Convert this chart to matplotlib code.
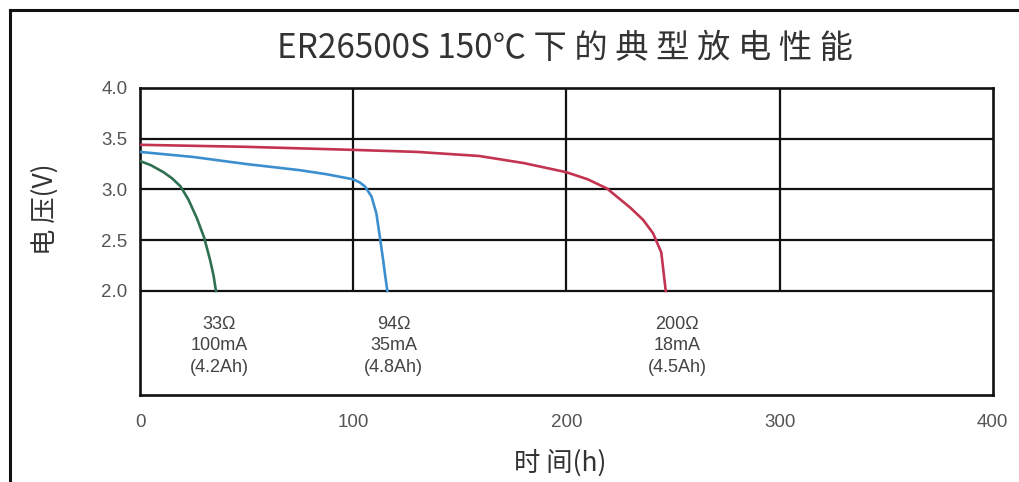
import matplotlib.pyplot as plt
from matplotlib.lines import Line2D

# 数据
t_33 = [0, 5, 11, 15, 19, 22.7, 26.6, 30, 32.8, 34.5, 35.6]
v_33 = [3.28, 3.24, 3.17, 3.11, 3.03, 2.9, 2.72, 2.53, 2.31, 2.15, 2.0]

t_94 = [0, 25, 50, 75, 87.5, 100, 103, 105.5, 108.6, 110.9, 112.5, 114, 115, 116]
v_94 = [3.37, 3.32, 3.25, 3.19, 3.15, 3.10, 3.07, 3.03, 2.93, 2.76, 2.53, 2.31, 2.15, 2.0]

t_200 = [0, 50, 100, 130, 159, 180, 200, 210, 219, 230, 236, 240.6, 244.5, 246.6]
v_200 = [3.44, 3.42, 3.39, 3.37, 3.33, 3.26, 3.17, 3.10, 3.01, 2.82, 2.7, 2.57, 2.38, 2.0]

labels = ['33\u03a9\n100mA\n(4.2Ah)', '94\u03a9\n35mA\n(4.8Ah)', '200\u03a9\n18mA\n(4.5Ah)']
label_x = [37, 119, 252]

x_ticks = [0, 100, 200, 300, 400]
y_ticks = [2.0, 2.5, 3.0, 3.5, 4.0]

cjk = ['Noto Sans CJK SC', 'DejaVu Sans']
latin = ['Liberation Sans', 'DejaVu Sans']

fig = plt.figure(figsize=(10.2, 4.82), dpi=100)
ax = fig.add_axes([0.1373, 0.1805, 0.836, 0.637])

# 网格只画在 2.0V 以上
ax.hlines(y_ticks[:-1], 0, 400, color='#111111', lw=1.6, zorder=1)
ax.vlines(x_ticks[1:-1], 2.0, 4.0, color='#111111', lw=1.6, zorder=1)

ax.plot(t_33, v_33, color='#2f7050', lw=1.9, zorder=3)
ax.plot(t_94, v_94, color='#3b8fcf', lw=1.9, zorder=3)
ax.plot(t_200, v_200, color='#c23450', lw=1.9, zorder=3)

for x, s in zip(label_x, labels):
    ax.text(x, 1.46, s, ha='center', va='center', fontsize=13, color='#444444',
            family=latin, linespacing=1.35)

ax.set_xlim(0, 400)
ax.set_ylim(0.975, 4.0)
ax.set_xticks(x_ticks)
ax.set_yticks(y_ticks)
ax.set_yticklabels([f'{v:.1f}' for v in y_ticks])
ax.tick_params(length=0, labelsize=13.5, labelcolor='#555555')
ax.tick_params(axis='x', pad=14)
ax.tick_params(axis='y', pad=9)
for lab in ax.get_xticklabels() + ax.get_yticklabels():
    lab.set_family(latin)
for sp in ax.spines.values():
    sp.set_linewidth(1.9)
    sp.set_color('#111111')

fig.text(0.554, 0.9, 'ER26500S 150\u2103 下 的 典 型 放 电 性 能', ha='center', va='center',
         fontsize=24, color='#333333', family=cjk)
fig.text(0.549, 0.04, '时 间(h)', ha='center', va='center', fontsize=19,
         color='#333333', family=cjk)
fig.text(0.044, 0.565, '电 压(V)', ha='center', va='center', rotation=90, fontsize=19,
         color='#333333', family=cjk)

# 外框
fig.add_artist(Line2D([10 / 1020, 10 / 1020], [0, 1 - 10 / 482], transform=fig.transFigure,
                      color='#111111', lw=2.2))
fig.add_artist(Line2D([10 / 1020, 1], [1 - 10 / 482, 1 - 10 / 482], transform=fig.transFigure,
                      color='#111111', lw=2.2))

fig.savefig('out.png', dpi=100)
